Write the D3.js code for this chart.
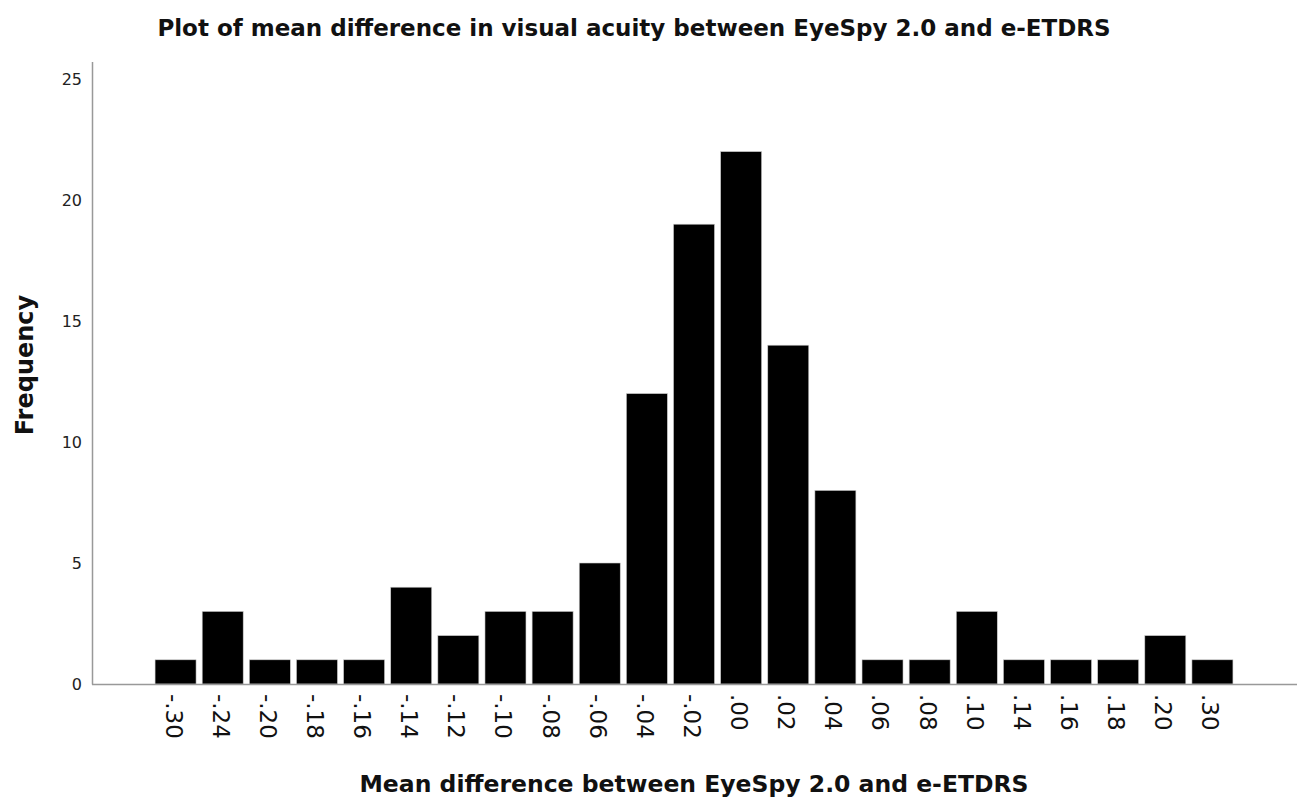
<!DOCTYPE html>
<html><head><meta charset="utf-8">
<script src="https://cdn.jsdelivr.net/npm/d3@7"></script>
<style>body{margin:0;background:#fff}</style>
</head><body>
<svg id="c" width="1297" height="800"></svg>
<script>
const categories = ["-.30","-.24","-.20","-.18","-.16","-.14","-.12","-.10","-.08","-.06","-.04","-.02",".00",".02",".04",".06",".08",".10",".14",".16",".18",".20",".30"];
const frequency = [1,3,1,1,1,4,2,3,3,5,12,19,22,14,8,1,1,3,1,1,1,2,1];
const yTicks = [0,5,10,15,20,25];

const svg = d3.select("#c");
const font = "'DejaVu Sans', Verdana, sans-serif";
const x = d3.scaleBand().domain(categories).range([152,1236]).paddingInner(0.13).paddingOuter(0.065);
const y = d3.scaleLinear().domain([0,25]).range([684,79]);

// bars
svg.append("g").selectAll("rect").data(categories).join("rect")
  .attr("x", d => x(d)).attr("width", x.bandwidth())
  .attr("y", (d,i) => y(frequency[i])).attr("height", (d,i) => y(0) - y(frequency[i]))
  .attr("fill", "#000").attr("stroke", "#ccc").attr("stroke-width", 0.6);

// axes lines
svg.append("line").attr("x1",92.5).attr("x2",92.5).attr("y1",62).attr("y2",684.5).attr("stroke","#999").attr("stroke-width",1.5);
svg.append("line").attr("x1",92).attr("x2",1297).attr("y1",684.5).attr("y2",684.5).attr("stroke","#999").attr("stroke-width",1.5);

// y axis labels
const ya = svg.append("g").attr("transform","translate(82,0)")
  .call(d3.axisLeft(y).tickValues(yTicks).tickSize(0).tickPadding(0));
ya.select(".domain").remove();
ya.selectAll("text").attr("font-family",font).attr("font-size",16).attr("fill","#222");

// x axis labels
const xa = svg.append("g").attr("transform","translate(0,684)")
  .call(d3.axisBottom(x).tickSize(0).tickPadding(0));
xa.select(".domain").remove();
xa.selectAll("text").attr("font-family",font).attr("font-size",23).attr("fill","#111")
  .attr("text-anchor","start").attr("dy","0.35em")
  .attr("transform","translate(-2,10) rotate(90)").attr("x",0).attr("y",0);

// titles
svg.append("text").attr("x",634).attr("y",36).attr("text-anchor","middle")
  .attr("font-family",font).attr("font-weight","bold").attr("font-size",23).attr("fill","#111")
  .text("Plot of mean difference in visual acuity between EyeSpy 2.0 and e-ETDRS");
svg.append("text").attr("x",694).attr("y",792).attr("text-anchor","middle")
  .attr("font-family",font).attr("font-weight","bold").attr("font-size",23.5).attr("fill","#111")
  .text("Mean difference between EyeSpy 2.0 and e-ETDRS");
svg.append("text").attr("transform","translate(33,365) rotate(-90)").attr("text-anchor","middle")
  .attr("font-family",font).attr("font-weight","bold").attr("font-size",24).attr("fill","#111")
  .text("Frequency");
</script>
</body></html>
